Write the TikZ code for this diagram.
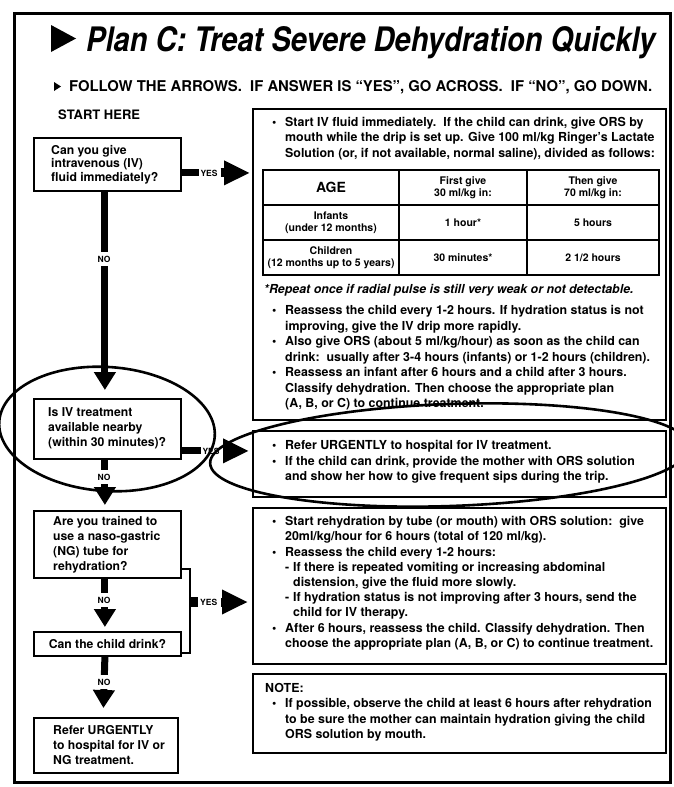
\documentclass[tikz,border=0pt]{standalone}
\usepackage{fontspec}
\setmainfont{TeX Gyre Heros}
\usepackage{graphicx}
\usetikzlibrary{arrows.meta,calc}
\newcommand{\bodyf}{\fontsize{12.4}{15.5}\selectfont\bfseries}
\newcommand{\bodyg}{\fontsize{12.4}{15.2}\selectfont\bfseries}
\newcommand{\qf}{\fontsize{12.2}{15}\selectfont\bfseries}
\newcommand{\qg}{\fontsize{12.2}{13.5}\selectfont\bfseries}
\newcommand{\lblf}{\fontsize{8.5}{9}\selectfont\bfseries}
\newcommand{\tabf}{\fontsize{10.5}{12}\selectfont\bfseries}
\newcommand{\myst}{\rule{0pt}{9.5pt}}
\newcommand{\bul}{\makebox[13pt][l]{\textbullet}}
\newcommand{\ind}{\hspace*{13pt}}
\begin{document}
\begin{tikzpicture}[x=1pt,y=-1pt,
  box/.style={draw, line width=1.8pt, inner sep=0, anchor=north west},
  txt/.style={anchor=north west, inner sep=0, align=left},
  nobar/.style={line width=7pt, -{Triangle[width=21pt,length=18pt]}},
  yesbar/.style={line width=7pt},
  yesarrow/.style={line width=9pt, -{Triangle[width=23pt,length=26pt]}},
  lbl/.style={font=\lblf, inner sep=0},
  nolbl/.style={font=\lblf, fill=white, inner xsep=2pt, inner ysep=3.5pt},
  ring/.style={line width=2.6pt},
  link/.style={line width=1.8pt},
  tbl/.style={line width=1.5pt},
  cell/.style={font=\tabf, align=center, inner sep=0},
]
\useasboundingbox (0,0) rectangle (674,787);
\clip (0,0) rectangle (674,787);

% frame
\node[box, line width=2.8pt, minimum width=656pt, minimum height=769pt] (frame) at (13,12) {};

% title
\fill (51,25) -- (51,52) -- (76,38.5) -- cycle;
\node[anchor=base west, inner sep=0] (title) at (86,51)
  {\resizebox{569pt}{25pt}{\bfseries\itshape Plan C: Treat Severe Dehydration Quickly}};
\fill (54,82) -- (54,91) -- (61,86.5) -- cycle;
\node[anchor=base west, inner sep=0] (sub) at (69,91)
  {\resizebox{583pt}{11pt}{\bfseries FOLLOW THE ARROWS.\ \ IF ANSWER IS ``YES'', GO ACROSS.\ \ IF ``NO'', GO DOWN.}};
\node[anchor=base west, inner sep=0, font=\fontsize{13}{14}\selectfont\bfseries] (start) at (58,119) {START HERE};

% left question boxes
\node[box, minimum width=147pt, minimum height=53pt] (q1) at (33,137) {};
\node[txt, font=\qg] (q1t) at (51,144.5) {\myst Can you give\\intravenous (IV)\\fluid immediately?};
\node[box, minimum width=147pt, minimum height=60pt] (q2) at (33,398) {};
\node[txt, font=\qf] (q2t) at (48,407) {\myst Is IV treatment\\available nearby\\(within 30 minutes)?};
\node[box, minimum width=147pt, minimum height=67pt] (q3) at (33,510) {};
\node[txt, font=\qf] (q3t) at (53,516) {\myst Are you trained to\\use a naso-gastric\\(NG) tube for\\rehydration?};
\node[box, minimum width=147pt, minimum height=24pt] (q4) at (33,631) {};
\node[font=\qf, inner sep=0] (q4t) at (q4.center) {Can the child drink?};
\node[box, minimum width=144pt, minimum height=55pt] (q5) at (33,717) {};
\node[txt, font=\qf] (q5t) at (53,724.5) {\myst Refer URGENTLY\\to hospital for IV or\\NG treatment.};

% right boxes
\node[box, minimum width=413pt, minimum height=311pt] (r1) at (252,108) {};
\node[box, minimum width=413pt, minimum height=66pt] (r2) at (252,430) {};
\node[box, minimum width=413pt, minimum height=156pt] (r3) at (252,507) {};
\node[box, minimum width=413pt, minimum height=79pt] (r4) at (252,673) {};

% right box 1 text
\node[txt, font=\bodyf] (r1a) at (272,116.5) {\myst\bul Start IV fluid immediately.\ \ If the child can drink, give ORS by\\
\ind mouth while the drip is set up. Give 100 ml/kg Ringer's Lactate\\
\ind Solution (or, if not available, normal saline), divided as follows:};

% table
\draw[tbl] (263,170) rectangle (659,275);
\draw[tbl] (263,205) -- (659,205) (263,240) -- (659,240) (399,170) -- (399,275) (527,170) -- (527,275);
\node[cell, font=\fontsize{14}{15}\selectfont\bfseries] (c11) at (331,187.5) {AGE};
\node[cell] (c12) at (463,187.5) {First give\\30 ml/kg in:};
\node[cell] (c13) at (593,187.5) {Then give\\70 ml/kg in:};
\node[cell] (c21) at (331,222.5) {Infants\\(under 12 months)};
\node[cell] (c22) at (463,222.5) {1 hour*};
\node[cell] (c23) at (593,222.5) {5 hours};
\node[cell] (c31) at (331,257.5) {Children\\(12 months up to 5 years)};
\node[cell] (c32) at (463,257.5) {30 minutes*};
\node[cell] (c33) at (593,257.5) {2 1/2 hours};

\node[txt, font=\fontsize{12.4}{15}\selectfont\bfseries\itshape] (rep) at (264,284) {\myst *Repeat once if radial pulse is still very weak or not detectable.};

\node[txt, font=\bodyf] (r1b) at (272,305) {\myst\bul Reassess the child every 1-2 hours. If hydration status is not\\
\ind improving, give the IV drip more rapidly.\\
\bul Also give ORS (about 5 ml/kg/hour) as soon as the child can\\
\ind drink:\ \ usually after 3-4 hours (infants) or 1-2 hours (children).\\
\bul Reassess an infant after 6 hours and a child after 3 hours.\\
\ind Classify dehydration. Then choose the appropriate plan\\
\ind (A, B, or C) to continue treatment.};

% right box 2 text
\node[txt, font=\bodyf] (r2a) at (272,440) {\myst\bul Refer URGENTLY to hospital for IV treatment.\\
\bul If the child can drink, provide the mother with ORS solution\\
\ind and show her how to give frequent sips during the trip.};

% right box 3 text
\node[txt, font=\bodyg] (r3a) at (272,516) {\myst\bul Start rehydration by tube (or mouth) with ORS solution:\ \ give\\
\ind 20ml/kg/hour for 6 hours (total of 120 ml/kg).\\
\bul Reassess the child every 1-2 hours:\\
\ind\makebox[8pt][l]{-}If there is repeated vomiting or increasing abdominal\\
\ind\hspace*{8pt}distension, give the fluid more slowly.\\
\ind\makebox[8pt][l]{-}If hydration status is not improving after 3 hours, send the\\
\ind\hspace*{8pt}child for IV therapy.\\
\bul After 6 hours, reassess the child. Classify dehydration. Then\\
\ind choose the appropriate plan (A, B, or C) to continue treatment.};

% note box text
\node[txt, font=\bodyf] (r4a) at (265,682.5) {\myst NOTE:\\
\hspace*{7pt}\bul If possible, observe the child at least 6 hours after rehydration\\
\hspace*{7pt}\ind to be sure the mother can maintain hydration giving the child\\
\hspace*{7pt}\ind ORS solution by mouth.};

% NO connectors
\draw[nobar] ($(q1.south)+(-2.5,0)$) -- ($(q2.north)+(-2.5,-8)$);
\node[nolbl] (no1) at (104,259) {NO};
\draw[nobar] ($(q2.south)+(-2.5,0)$) -- ($(q3.north)+(-2.5,-5)$);
\node[nolbl] (no2) at (104,477) {NO};
\draw[nobar] ($(q3.south)+(-2.5,0)$) -- ($(q4.north)+(-2.5,-4)$);
\node[nolbl] (no3) at (104,600) {NO};
\draw[nobar] ($(q4.south)+(-2.5,0)$) -- ($(q5.north)+(-2.5,-9)$);
\node[nolbl] (no4) at (104,682) {NO};

% YES connectors
\draw[yesbar] ($(q1.east)+(0,8.5)$) -- ++(17,0) coordinate (y1a);
\node[lbl, anchor=west] (yes1) at ($(y1a)+(1.5,0)$) {YES};
\draw[yesarrow] ($(yes1.east)+(3,0)$) -- ($(yes1.east -| r1.west)+(-2,0)$);

\draw[yesbar] ($(q2.east)+(0,22)$) -- ++(19,0) coordinate (y2a);
\node[lbl, anchor=west] (yes2) at ($(y2a)+(1.5,0)$) {YES};
\draw[yesarrow] ($(yes2.east)+(7,0)$) -- ($(yes2.east -| r2.west)+(-3,0)$);

\coordinate (j3) at (190,602);
\draw[link] ($(q3.south east)+(0,-10)$) -| (j3) |- ($(q4.south east)+(0,-4)$);
\draw[line width=10pt] (j3) -- ++(8,0) coordinate (y3a);
\node[lbl, anchor=west] (yes3) at ($(y3a)+(2,0)$) {YES};
\draw[yesarrow] ($(yes3.east)+(4,0)$) -- ($(yes3.east -| r3.west)+(-4,0)$);

% hand-drawn rings
\draw[ring, rotate around={-4:(107,429)}] (107,429) ellipse [x radius=108, y radius=62];
\draw[ring, rotate around={2:(450,455)}] (450,455) ellipse [x radius=240, y radius=51];
\end{tikzpicture}
\end{document}
